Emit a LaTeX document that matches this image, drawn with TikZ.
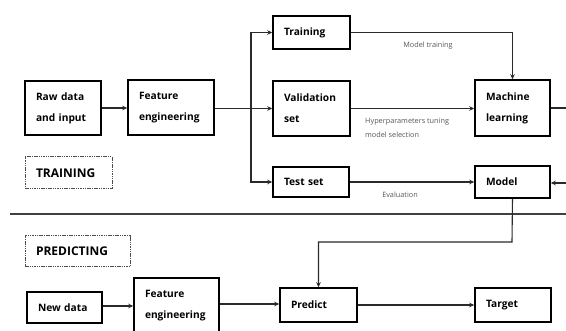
\documentclass[tikz,border=0pt]{standalone}
\usepackage{fontspec}
\setmainfont{Open Sans}
\usetikzlibrary{arrows.meta}
\definecolor{lbl}{HTML}{555555}
\definecolor{ln}{HTML}{2A2A2A}
\tikzset{
  box/.style={draw=black, line width=1.5pt, inner xsep=11pt, inner ysep=0pt, align=left,
    font=\fontsize{10.2}{21}\selectfont\bfseries, anchor=center},
  tagbox/.style={draw=black!70, line width=1pt, dash pattern=on 1.5pt off 0.8pt,
    inner xsep=11pt, inner ysep=0pt, align=left, font=\fontsize{12}{14}\selectfont\bfseries},
  conn/.style={draw=ln, line width=1.1pt},
  arr/.style={conn, -{Stealth[length=5pt,width=4.5pt]}},
  lab/.style={text=lbl, font=\fontsize{7.3}{14}\selectfont, inner sep=0pt, align=left}
}
\begin{document}
\begin{tikzpicture}[x=1pt,y=-1pt]
\useasboundingbox (0,0) rectangle (566,331);
\clip (0,0) rectangle (566,331);
% boxes
\node[box, minimum width=76pt, minimum height=54pt, text width=54pt] (raw) at (63,108) {Raw data\\and input};
\node[box, minimum width=86pt, minimum height=55pt, text width=64pt] (fe1) at (171,107.5) {Feature\\engineering};
\node[box, minimum width=77pt, minimum height=33pt, text width=55pt] (train) at (311.5,32.5) {Training};
\node[box, minimum width=77pt, minimum height=55pt, text width=55pt] (val) at (311.5,108.5) {Validation\\set};
\node[box, minimum width=75pt, minimum height=56pt, text width=53pt] (ml) at (512.5,108) {Machine\\learning};
\node[box, minimum width=76pt, minimum height=30pt, text width=54pt] (test) at (311,182) {Test set};
\node[box, minimum width=75pt, minimum height=32pt, text width=53pt] (model) at (512.5,182) {Model};
\node[box, minimum width=75pt, minimum height=31pt, text width=53pt] (new) at (64.5,307.5) {New data};
\node[box, minimum width=85pt, minimum height=55pt, text width=63pt] (fe2) at (176.5,305.5) {Feature\\engineering};
\node[box, minimum width=77pt, minimum height=34pt, text width=55pt] (pred) at (318.5,305) {Predict};
\node[box, minimum width=76pt, minimum height=34pt, text width=54pt] (target) at (513,305) {Target};
% tag boxes
\node[tagbox, minimum width=87pt, minimum height=32pt, text width=65pt] (tagtrain) at (68.5,173) {TRAINING};
\node[tagbox, minimum width=105pt, minimum height=31pt, text width=83pt] (tagpred) at (77.5,251.5) {PREDICTING};
% separator
\coordinate (sepL) at (10,214);
\coordinate (sepR) at (566,214);
\draw[draw=black!75, line width=1.6pt] (sepL) -- (sepR);
% connectors
\coordinate (fork) at (251,108);
\draw[arr] (raw.east) -- (raw.east -| fe1.west);
\draw[arr] (fe1.east |- val.west) -- (val.west);
\draw[arr] (fork) |- (train.west);
\draw[arr] (fork) |- (test.west);
\draw[arr] (train.east) -| (ml.north);
\draw[arr] (val.west -| val.east) -- (ml.west |- val.west);
\draw[arr] (test.east) -- (test.east -| model.west);
\coordinate (mlout) at (566,108);
\coordinate (modelin) at (566,183);
\draw[conn] (ml.east) -- (mlout);
\draw[arr] (modelin) -- (modelin -| model.east);
\coordinate (bend) at (512,242);
\draw[arr] (model.south) -- (bend) -| (pred.north);
\draw[arr] (new.east |- 0,306) -- (fe2.west |- 0,306);
\draw[arr] (fe2.east |- 0,304) -- (pred.west |- 0,304);
\draw[arr] (pred.east) -- (target.west |- pred.east);
% labels
\node[lab, anchor=center] (l1) at (428,46) {Model training};
\node[lab, anchor=north west] (l2) at (365,118) {Hyperparameters tuning\\model selection};
\node[lab, anchor=center] (l3) at (400,195) {Evaluation};
\end{tikzpicture}
\end{document}
